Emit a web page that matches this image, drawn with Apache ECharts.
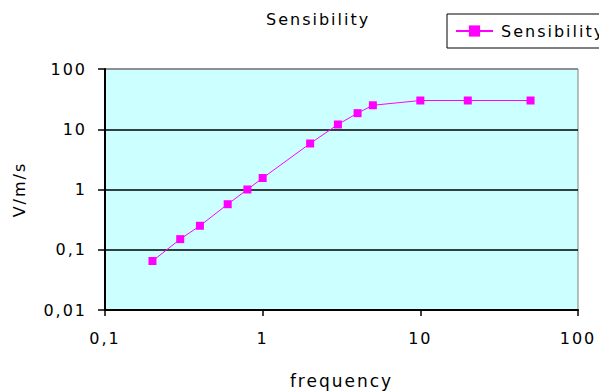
<!DOCTYPE html>
<html>
<head>
<meta charset="utf-8">
<script src="https://cdn.jsdelivr.net/npm/echarts@6/dist/echarts.min.js"></script>
<style>
  html, body { margin: 0; padding: 0; background: #fff; }
  #chart { width: 599px; height: 391px; }
  #chart svg text { letter-spacing: 2px; }
</style>
</head>
<body>
<div id="chart"></div>
<script>
// ---- data ----
const seriesName = 'Sensibility';
const titleText = 'Sensibility';
const xAxisName = 'frequency';
const yAxisName = 'V/m/s';
const frequency = [0.2, 0.3, 0.4, 0.6, 0.8, 1, 2, 3, 4, 5, 10, 20, 50];
const sensibility = [0.065, 0.15, 0.25, 0.57, 1, 1.55, 5.8, 12, 18.5, 25, 30, 30, 30];
const xTickValues = [0.1, 1, 10, 100];
const xTickLabels = ['0,1', '1', '10', '100'];
const yTickValues = [0.01, 0.1, 1, 10, 100];
const yTickLabels = ['0,01', '0,1', '1', '10', '100'];

function labelFor(values, labels) {
  return function (v) {
    for (let i = 0; i < values.length; i++) {
      if (Math.abs(Math.log10(v) - Math.log10(values[i])) < 1e-6) return labels[i];
    }
    return '';
  };
}

const FONT = 'DejaVu Sans';
const chart = echarts.init(document.getElementById('chart'), null, { renderer: 'svg' });
chart.setOption({
  animation: false,
  backgroundColor: '#ffffff',
  title: {
    text: titleText,
    left: 266,
    top: 11,
    padding: 0,
    textStyle: { fontFamily: FONT, fontSize: 16, fontWeight: 'normal', color: '#000' }
  },
  legend: {
    left: 447,
    top: 14,
    padding: [9, 200, 9, 8],
    borderColor: '#000',
    borderWidth: 1,
    itemWidth: 37,
    itemHeight: 14,
    textStyle: { fontFamily: FONT, fontSize: 16, color: '#000', padding: [0, 0, 0, 3] },
    data: [seriesName]
  },
  grid: {
    left: 105, right: 21, top: 69, bottom: 81,
    outerBoundsMode: 'none',
    containLabel: false,
    show: true,
    backgroundColor: '#CCFFFF',
    borderColor: '#808080',
    borderWidth: 1
  },
  xAxis: {
    type: 'log',
    logBase: 10,
    min: 0.1,
    max: 100,
    name: xAxisName,
    nameLocation: 'middle',
    nameGap: 62,
    nameTextStyle: { fontFamily: FONT, fontSize: 17, color: '#000' },
    axisLine: { show: true, lineStyle: { color: '#000', width: 2 } },
    axisTick: { show: true, inside: false, length: 6, lineStyle: { color: '#000', width: 1.5 } },
    axisLabel: {
      margin: 20,
      fontFamily: FONT, fontSize: 16, color: '#000',
      formatter: labelFor(xTickValues, xTickLabels)
    },
    splitLine: { show: false },
    minorTick: { show: false }
  },
  yAxis: {
    type: 'log',
    logBase: 10,
    min: 0.01,
    max: 100,
    name: yAxisName,
    nameLocation: 'middle',
    nameGap: 78,
    nameTextStyle: { fontFamily: FONT, fontSize: 16, color: '#000' },
    axisLine: { show: true, lineStyle: { color: '#000', width: 2 } },
    axisTick: { show: true, inside: false, length: 7, lineStyle: { color: '#000', width: 1.5 } },
    axisLabel: {
      margin: 18,
      fontFamily: FONT, fontSize: 16, color: '#000',
      formatter: labelFor(yTickValues, yTickLabels)
    },
    splitLine: { show: true, lineStyle: { color: ['#000', '#000', '#000', '#000', '#808080'], width: 1.5 } }
  },
  series: [{
    name: seriesName,
    type: 'line',
    data: frequency.map((f, i) => [f, sensibility[i]]),
    symbol: 'rect',
    symbolSize: 8,
    showAllSymbol: true,
    itemStyle: { color: '#FF00FF' },
    lineStyle: { color: '#FF00FF', width: 1 }
  }]
});
</script>
</body>
</html>
